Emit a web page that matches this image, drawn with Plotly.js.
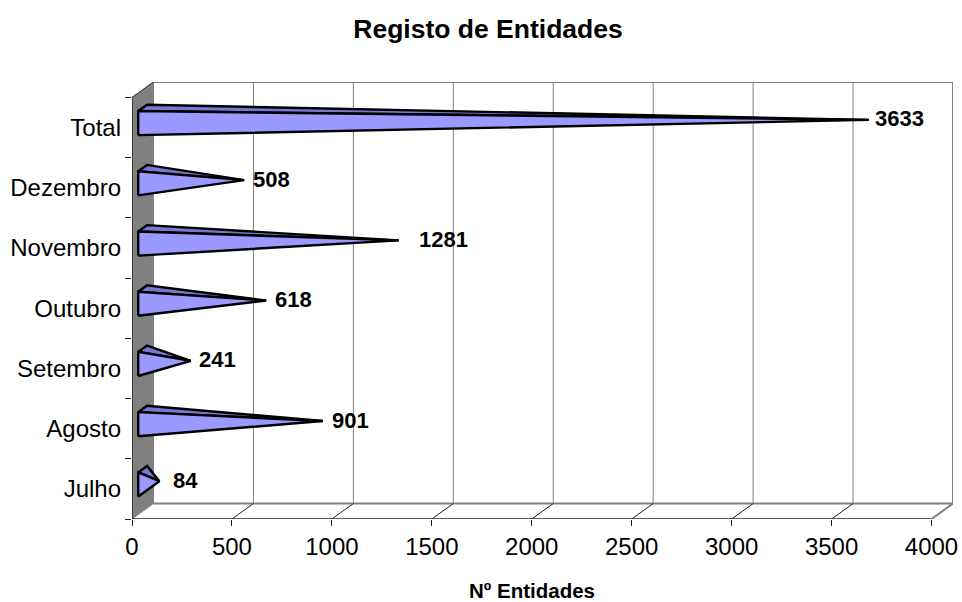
<!DOCTYPE html>
<html>
<head>
<meta charset="utf-8">
<script src="https://cdn.plot.ly/plotly-3.0.1.min.js"></script>
<style>html,body{margin:0;padding:0;background:#fff}</style>
</head>
<body>
<div id="chart" style="width:962px;height:602px"></div>
<script>
// Registered entities per month, bottom row first
const categories = ['Julho', 'Agosto', 'Setembro', 'Outubro', 'Novembro', 'Dezembro', 'Total'];
const values = [84, 901, 241, 618, 1281, 508, 3633];
const xTicks = [0, 500, 1000, 1500, 2000, 2500, 3000, 3500, 4000];
const labelShiftPx = [12, 7, 6, 7, 18, 7, 4];

// Oblique projection of the box: how far the back plane sits from the front plane, in axis units
const DEPTH_X = 107.5;
const DEPTH_Y = 0.257;
const X_MAX = 4000;
const rowCount = categories.length;
const BAR_FRONT = 0.29, BAR_BACK = 0.70, BAR_HALF = 0.2;

const GREY = '#808080', FACE = '#9999FF', TOP_FACE = '#7878D2';
const FONT = 'Liberation Sans, Arial, sans-serif';

function seg(xs, ys, color, width) {
  return {x: xs, y: ys, mode: 'lines', type: 'scatter', hoverinfo: 'skip', showlegend: false,
          cliponaxis: false, line: {color: color, width: width}};
}
function poly(xs, ys, fill, lineColor, width) {
  return {x: xs, y: ys, mode: 'lines', type: 'scatter', fill: 'toself', fillcolor: fill,
          hoverinfo: 'skip', showlegend: false, cliponaxis: false,
          line: {color: lineColor, width: width, shape: 'linear'}};
}

const traces = [];

// Grey side wall
traces.push(poly([0, DEPTH_X, DEPTH_X, 0, 0], [0, DEPTH_Y, rowCount + DEPTH_Y, rowCount, 0], GREY, GREY, 1));

// Back-plane gridlines and frame
xTicks.slice(1).forEach(v => {
  traces.push(seg([v + DEPTH_X, v + DEPTH_X], [DEPTH_Y, rowCount + DEPTH_Y], GREY, v === X_MAX ? 2 : 1));
});
traces.push(seg([DEPTH_X, X_MAX + DEPTH_X], [rowCount + DEPTH_Y, rowCount + DEPTH_Y], GREY, 2));
traces.push(seg([DEPTH_X, X_MAX + DEPTH_X], [DEPTH_Y, DEPTH_Y], GREY, 2));

// Floor edges running from the front axis to the back plane
xTicks.slice(1, -1).forEach(v => {
  traces.push(seg([v, v + DEPTH_X], [0, DEPTH_Y], '#222222', 1));
});
traces.push(seg([X_MAX, X_MAX + DEPTH_X], [0, DEPTH_Y], GREY, 2));
traces.push(seg([0, DEPTH_X], [rowCount, rowCount + DEPTH_Y], '#333333', 1));

// Front axis lines
traces.push(seg([0, 0], [0, rowCount], '#222222', 1.5));
traces.push(seg([0, X_MAX], [0, 0], '#222222', 1.5));

// One pyramid per row: a lit front face and a darker top face meeting at the tip
const mid = (BAR_FRONT + BAR_BACK) / 2;
values.forEach((v, i) => {
  const c = i + 0.5;
  const fx = BAR_FRONT * DEPTH_X, fy = BAR_FRONT * DEPTH_Y;
  const bx = BAR_BACK * DEPTH_X, by = BAR_BACK * DEPTH_Y;
  const tipX = mid * DEPTH_X + v, tipY = c + mid * DEPTH_Y;
  traces.push(poly([fx, bx, tipX, fx], [c + BAR_HALF + fy, c + BAR_HALF + by, tipY, c + BAR_HALF + fy],
                   TOP_FACE, '#000000', 2.4));
  traces.push(poly([fx, fx, tipX, fx], [c - BAR_HALF + fy, c + BAR_HALF + fy, tipY, c - BAR_HALF + fy],
                   FACE, '#000000', 2.4));
});

// Value labels just past each tip
const annotations = values.map((v, i) => ({
  x: mid * DEPTH_X + v, y: i + 0.5 + mid * DEPTH_Y, xref: 'x', yref: 'y',
  text: String(v), showarrow: false, xanchor: 'left', yanchor: 'middle', xshift: labelShiftPx[i], yshift: 1,
  font: {family: FONT, size: 22, color: '#000000', weight: 700}
}));
annotations.push({
  x: 2000, y: 0, xref: 'x', yref: 'paper', yshift: -71, yanchor: 'middle', showarrow: false,
  text: '<b>Nº Entidades</b>', font: {family: FONT, size: 20.5, color: '#000000'}
});

const layout = {
  width: 962, height: 602,
  margin: {l: 132, r: 962 - 132 - 821.5, t: 82, b: 83, pad: 0},
  paper_bgcolor: '#ffffff', plot_bgcolor: '#ffffff',
  showlegend: false,
  title: {text: '<b>Registo de Entidades</b>', x: 488 / 962, xanchor: 'center', y: 1 - 29 / 602, yanchor: 'middle',
          font: {family: FONT, size: 26.5, color: '#000000'}},
  xaxis: {
    range: [0, X_MAX + DEPTH_X], tickmode: 'array', tickvals: xTicks, ticktext: xTicks.map(String),
    ticks: 'outside', ticklen: 6, tickwidth: 1, tickcolor: '#222222',
    showgrid: false, zeroline: false, showline: false, automargin: false,
    tickfont: {family: FONT, size: 24, color: '#000000'}
  },
  yaxis: {
    range: [0, rowCount + DEPTH_Y], tickmode: 'array',
    tickvals: categories.map((_, i) => i + 0.5), ticktext: categories,
    ticks: '', ticklabelstandoff: 10,
    minor: {tickmode: 'array', tickvals: categories.map((_, i) => i).concat([rowCount]),
            ticks: 'outside', ticklen: 6, tickwidth: 1, tickcolor: '#222222', showgrid: false},
    showgrid: false, zeroline: false, showline: false, automargin: false,
    tickfont: {family: FONT, size: 24, color: '#000000'}
  },
  annotations: annotations
};

Plotly.newPlot('chart', traces, layout, {displayModeBar: false, staticPlot: true});
</script>
</body>
</html>
